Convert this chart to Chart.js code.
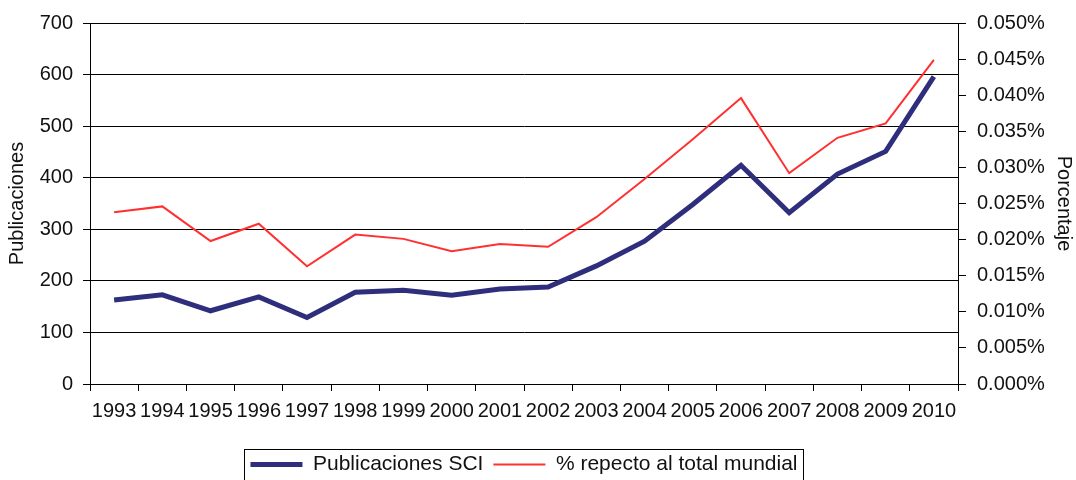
<!DOCTYPE html>
<html>
<head>
<meta charset="utf-8">
<script src="https://cdn.jsdelivr.net/npm/chart.js@4/dist/chart.umd.min.js"></script>
<style>
  html, body { margin: 0; padding: 0; background: #ffffff; }
  #wrap { width: 1076px; height: 480px; position: relative; }
</style>
</head>
<body>
<div id="wrap"><canvas id="c" width="1076" height="480"></canvas></div>
<script>
// ---- data ----
const years = ['1993','1994','1995','1996','1997','1998','1999','2000','2001','2002','2003','2004','2005','2006','2007','2008','2009','2010'];
const publicacionesSCI = [163, 173, 142, 169, 129, 178, 182, 172, 184, 188, 229, 277, 348, 424, 332, 407, 451, 596];
const porcentajeMundial = [0.0238, 0.0246, 0.0198, 0.0222, 0.0163, 0.0207, 0.0201, 0.0184, 0.0194, 0.0190, 0.0231, 0.0284, 0.0339, 0.0396, 0.0292, 0.0341, 0.0361, 0.0449];
const leftTicks = [0, 100, 200, 300, 400, 500, 600, 700];
const rightTicks = [0.000, 0.005, 0.010, 0.015, 0.020, 0.025, 0.030, 0.035, 0.040, 0.045, 0.050];
const seriesNames = ['Publicaciones SCI', '% repecto al total mundial'];
const axisTitles = ['Publicaciones', 'Porcentaje'];

// ---- style ----
const FONT = '"Liberation Sans", Arial, Helvetica, sans-serif';
Chart.defaults.font.family = FONT;
Chart.defaults.font.size = 20;
Chart.defaults.color = '#111';

const legendBorder = {
  id: 'legendBorder',
  afterDraw(chart) {
    const lg = chart.legend;
    if (!lg || !lg.legendHitBoxes || !lg.legendHitBoxes.length) return;
    const hb = lg.legendHitBoxes;
    let l = Infinity, r = -Infinity, t = Infinity, b = -Infinity;
    hb.forEach(h => { l = Math.min(l, h.left); r = Math.max(r, h.left + h.width); t = Math.min(t, h.top); b = Math.max(b, h.top + h.height); });
    const ctx = chart.ctx;
    ctx.save();
    ctx.strokeStyle = '#000';
    ctx.lineWidth = 1;
    ctx.strokeRect(Math.round(l - 6) + 0.5, Math.round(t - 5) + 0.5, Math.round(r - l + 12), Math.round(b - t + 12));
    ctx.restore();
  }
};

new Chart(document.getElementById('c'), {
  type: 'line',
  data: {
    labels: years,
    datasets: [
      {
        label: seriesNames[0],
        data: publicacionesSCI,
        yAxisID: 'y',
        borderColor: '#2e2e7c',
        backgroundColor: '#2e2e7c',
        borderWidth: 5,
        pointRadius: 0,
        tension: 0
      },
      {
        label: seriesNames[1],
        data: porcentajeMundial,
        yAxisID: 'y1',
        borderColor: '#ff3030',
        backgroundColor: '#ff3030',
        borderWidth: 2,
        pointRadius: 0,
        tension: 0
      }
    ]
  },
  options: {
    responsive: false,
    animation: false,
    devicePixelRatio: 1,
    layout: { padding: { top: 18, bottom: -5, left: 0, right: 0 } },
    plugins: {
      legend: {
        position: 'bottom',
        fullSize: false,
        labels: {
          usePointStyle: true,
          pointStyle: 'line',
          pointStyleWidth: 52,
          padding: 10,
          color: '#111',
          font: { size: 21 }
        }
      },
      tooltip: { enabled: false }
    },
    scales: {
      x: {
        type: 'category',
        offset: true,
        grid: { offset: true, drawOnChartArea: false, drawTicks: true, tickLength: 7, color: '#000', lineWidth: 1 },
        border: { color: '#000', width: 1 },
        ticks: { autoSkip: false, maxRotation: 0, minRotation: 0, padding: 8, color: '#111', font: { size: 20 } },
        afterFit(s) { s.height = 60; }
      },
      y: {
        position: 'left',
        min: leftTicks[0],
        max: leftTicks[leftTicks.length - 1],
        ticks: { stepSize: leftTicks[1] - leftTicks[0], padding: 10, color: '#111', font: { size: 20 } },
        grid: { color: '#000', lineWidth: 1, tickLength: 7 },
        border: { color: '#000', width: 1 },
        title: { display: true, text: axisTitles[0], color: '#111', font: { size: 20 }, padding: { top: 5, bottom: 0 } },
        afterFit(s) { s.width = 90; }
      },
      y1: {
        position: 'right',
        min: rightTicks[0],
        max: rightTicks[rightTicks.length - 1],
        ticks: {
          stepSize: rightTicks[1] - rightTicks[0],
          padding: 11,
          color: '#111',
          font: { size: 20 },
          callback: (v) => Number(v).toFixed(3) + '%'
        },
        grid: { drawOnChartArea: false, color: '#000', lineWidth: 1, tickLength: 8 },
        border: { color: '#000', width: 1 },
        title: { display: true, text: axisTitles[1], color: '#111', font: { size: 20 }, padding: { top: 0, bottom: 0 } },
        afterFit(s) { s.width = 118; }
      }
    }
  },
  plugins: [legendBorder]
});
</script>
</body>
</html>
